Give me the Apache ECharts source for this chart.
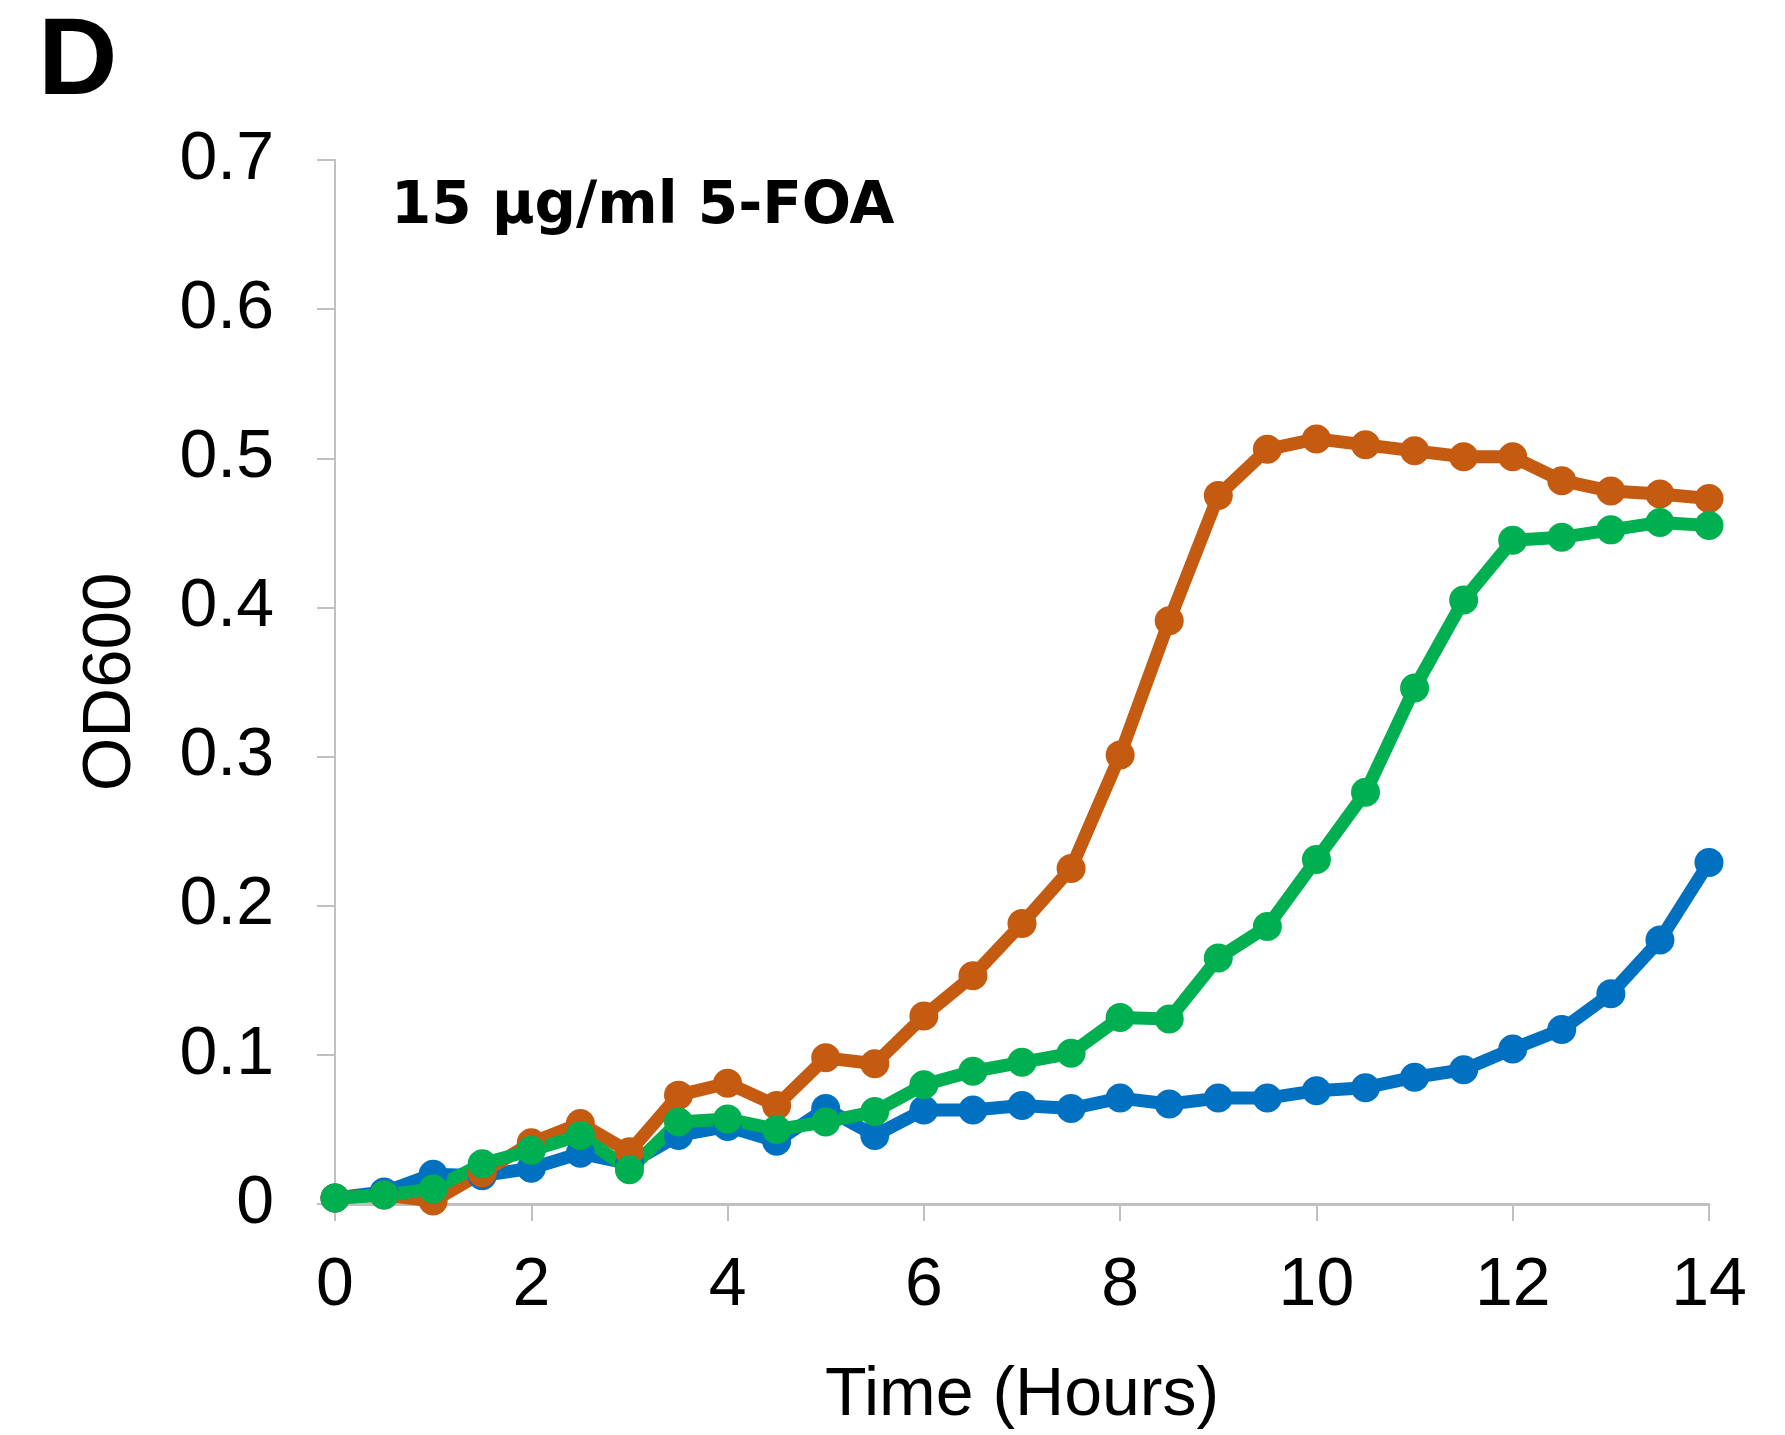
<!DOCTYPE html>
<html>
<head>
<meta charset="utf-8">
<script src="https://cdn.jsdelivr.net/npm/echarts@6/dist/echarts.min.js"></script>
<style>
html,body{margin:0;padding:0;background:#fff;}
#chart{width:1785px;height:1435px;}
</style>
</head>
<body>
<div id="chart"></div>
<script>
const hours = [0,0.5,1,1.5,2,2.5,3,3.5,4,4.5,5,5.5,6,6.5,7,7.5,8,8.5,9,9.5,10,10.5,11,11.5,12,12.5,13,13.5,14];
const blueSeries = [0.004,0.008,0.020,0.019,0.024,0.034,0.027,0.046,0.052,0.042,0.064,0.046,0.063,0.063,0.066,0.064,0.071,0.067,0.071,0.071,0.076,0.078,0.085,0.090,0.104,0.117,0.141,0.177,0.229];
const orangeSeries = [0.004,0.006,0.002,0.021,0.041,0.054,0.035,0.073,0.081,0.066,0.098,0.094,0.126,0.153,0.188,0.225,0.301,0.391,0.475,0.506,0.513,0.509,0.505,0.501,0.501,0.485,0.478,0.476,0.473];
const greenSeries = [0.004,0.006,0.010,0.027,0.036,0.046,0.023,0.055,0.057,0.050,0.055,0.062,0.080,0.089,0.095,0.101,0.125,0.124,0.165,0.186,0.231,0.276,0.346,0.405,0.445,0.447,0.452,0.457,0.455];
const panelLabel = 'D';
const conditionLabel = '15 µg/ml 5-FOA';
const xAxisName = 'Time (Hours)';
const yAxisName = 'OD600';

const pair = arr => hours.map((h, i) => [h, arr[i]]);
const font = 'Liberation Sans, Arial, sans-serif';
const mkSeries = (name, data, color) => ({
  name, type: 'line', data: pair(data),
  symbol: 'circle', symbolSize: 29, showSymbol: true,
  lineStyle: {color, width: 13},
  itemStyle: {color},
  animation: false
});

const chart = echarts.init(document.getElementById('chart'), null, {renderer: 'canvas'});
chart.setOption({
  backgroundColor: '#ffffff',
  animation: false,
  title: [
    {text: panelLabel, left: 33, top: 4, textStyle: {fontFamily: font, fontWeight: 'bold', fontSize: 110, color: '#000'}},
    {text: conditionLabel, left: 386, top: 174, textStyle: {fontFamily: 'DejaVu Sans', fontWeight: 'bold', fontSize: 58, color: '#000'}}
  ],
  grid: {left: 335, right: 76, top: 160, bottom: 230, containLabel: false},
  xAxis: {
    type: 'value', min: 0, max: 14, interval: 2,
    name: xAxisName, nameLocation: 'middle', nameGap: 158,
    nameTextStyle: {fontFamily: font, fontSize: 68, color: '#000'},
    axisLine: {show: true, lineStyle: {color: '#c0c0c0', width: 3}},
    axisTick: {show: true, length: 17, lineStyle: {color: '#c0c0c0', width: 2}},
    axisLabel: {fontFamily: font, fontSize: 68, color: '#000', margin: 48},
    splitLine: {show: false}
  },
  yAxis: {
    type: 'value', min: 0, max: 0.7, interval: 0.1,
    name: yAxisName, nameLocation: 'middle', nameGap: 190, nameRotate: 90,
    nameTextStyle: {fontFamily: font, fontSize: 69, color: '#000'},
    axisLine: {show: true, lineStyle: {color: '#c0c0c0', width: 2}},
    axisTick: {show: true, length: 18, lineStyle: {color: '#c0c0c0', width: 2}},
    axisLabel: {fontFamily: font, fontSize: 68, color: '#000', margin: 61,
      formatter: v => (Math.round(v * 10) / 10).toString()},
    splitLine: {show: false}
  },
  series: [
    mkSeries('Blue', blueSeries, '#0070C0'),
    mkSeries('Orange', orangeSeries, '#C55A11'),
    mkSeries('Green', greenSeries, '#00B050')
  ]
});
</script>
</body>
</html>
